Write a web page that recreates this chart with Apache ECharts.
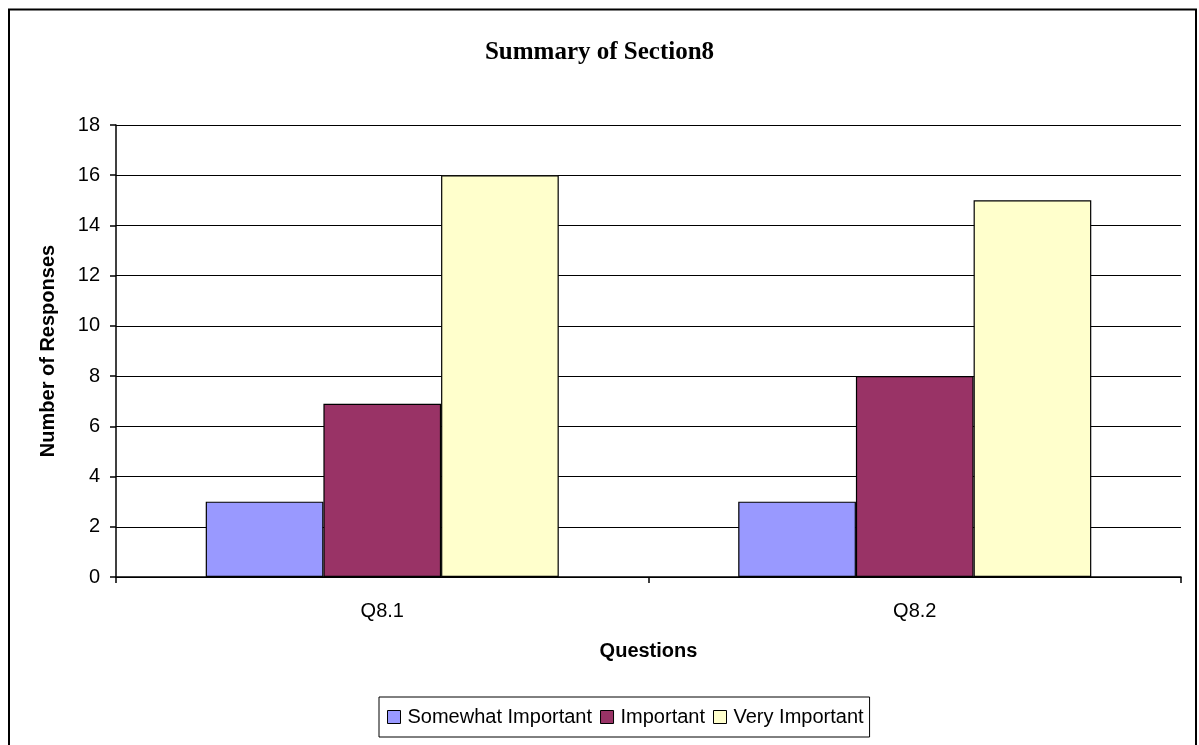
<!DOCTYPE html>
<html>
<head>
<meta charset="utf-8">
<title>Summary of Section8</title>
<script src="https://cdn.jsdelivr.net/npm/echarts@6/dist/echarts.min.js"></script>
<style>
  html, body { margin: 0; padding: 0; background: #ffffff; }
  #chart { width: 1199px; height: 745px; }
</style>
</head>
<body>
<div id="chart"></div>
<script>
// Survey responses per question, grouped by importance rating
const questions = ['Q8.1', 'Q8.2'];
const somewhatImportant = [3, 3];
const important = [6.9, 8];
const veryImportant = [16, 15];
const seriesNames = ['Somewhat Important', 'Important', 'Very Important'];
const seriesColors = ['#9999FF', '#993366', '#FFFFCC'];

const sans = '"Liberation Sans", Arial, sans-serif';
const serif = '"Liberation Serif", "Times New Roman", serif';

const chart = echarts.init(document.getElementById('chart'), null, { renderer: 'canvas' });

const makeBar = (name, data, color) => ({
  name: name,
  type: 'bar',
  data: data,
  barGap: '0%',
  barCategoryGap: '33.7%',
  itemStyle: { color: color, borderColor: '#000000', borderWidth: 1.2 },
  emphasis: { disabled: true }
});

chart.setOption({
  animation: false,
  backgroundColor: '#ffffff',
  title: {
    text: 'Summary of Section8',
    left: 'center',
    top: 35,
    textStyle: { fontFamily: serif, fontWeight: 'bold', fontSize: 25, color: '#000000' }
  },
  graphic: [{
    type: 'rect',
    shape: { x: 9, y: 9.5, width: 1187, height: 760 },
    style: { fill: 'none', stroke: '#000000', lineWidth: 2 },
    silent: true,
    z: 100
  }],
  legend: {
    data: seriesNames,
    left: 379,
    top: 697,
    orient: 'horizontal',
    padding: [10, 6, 10, 8],
    itemGap: 8,
    itemWidth: 13,
    itemHeight: 13,
    icon: 'rect',
    borderColor: '#000000',
    borderWidth: 1,
    itemStyle: { borderColor: '#000000', borderWidth: 1 },
    textStyle: { fontFamily: sans, fontSize: 20, color: '#000000', padding: [0, 0, 0, 2] }
  },
  grid: { left: 116, right: 18, top: 125, bottom: 168, containLabel: false },
  xAxis: {
    type: 'category',
    data: questions,
    name: 'Questions',
    nameLocation: 'middle',
    nameGap: 64,
    nameTextStyle: { fontFamily: sans, fontWeight: 'bold', fontSize: 20, color: '#000000' },
    axisLine: { lineStyle: { color: '#000000', width: 1.5 } },
    axisTick: { show: true, length: 6, lineStyle: { color: '#000000', width: 1.5 } },
    axisLabel: { fontFamily: sans, fontSize: 20, color: '#000000', margin: 24 },
    splitLine: { show: false }
  },
  yAxis: {
    type: 'value',
    min: 0,
    max: 18,
    interval: 2,
    name: 'Number of Responses',
    nameLocation: 'middle',
    nameGap: 58,
    nameTextStyle: { fontFamily: sans, fontWeight: 'bold', fontSize: 20, color: '#000000' },
    axisLine: { show: true, lineStyle: { color: '#000000', width: 1.5 } },
    axisTick: { show: true, length: 6, lineStyle: { color: '#000000', width: 1.5 } },
    axisLabel: { fontFamily: sans, fontSize: 20, color: '#000000', margin: 16 },
    splitLine: { show: true, lineStyle: { color: '#000000', width: 1.2 } }
  },
  series: [
    makeBar(seriesNames[0], somewhatImportant, seriesColors[0]),
    makeBar(seriesNames[1], important, seriesColors[1]),
    makeBar(seriesNames[2], veryImportant, seriesColors[2])
  ]
});
</script>
</body>
</html>
